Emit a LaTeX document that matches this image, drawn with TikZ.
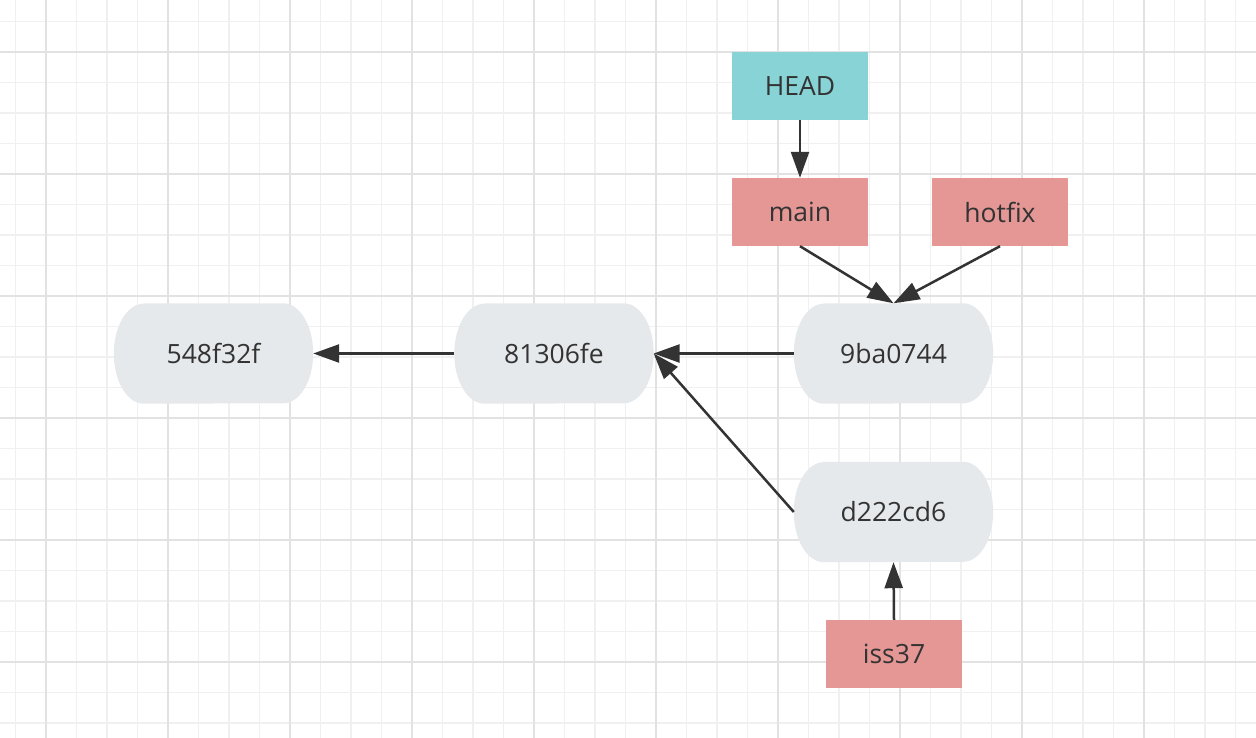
\documentclass[tikz,border=0pt]{standalone}
\usepackage{fontspec}
\setmainfont{Open Sans}
\usetikzlibrary{arrows.meta,backgrounds}
\definecolor{minorgrid}{HTML}{F0F0F0}
\definecolor{majorgrid}{HTML}{E2E2E2}
\definecolor{refcyan}{HTML}{88D3D6}
\definecolor{refpink}{HTML}{E49795}
\definecolor{commitgray}{HTML}{E6E9EC}
\definecolor{ink}{HTML}{333333}
\tikzset{
  minorline/.style={draw=minorgrid,line width=1.5pt},
  majorline/.style={draw=majorgrid,line width=2pt},
  refbox/.style={rectangle,inner sep=0pt,minimum width=136pt,minimum height=68pt,text=ink,font=\fontsize{26.5}{31}\selectfont},
  headbox/.style={refbox,fill=refcyan},
  branchbox/.style={refbox,fill=refpink},
  commitbox/.style={rectangle,inner sep=0pt,minimum width=199pt,minimum height=100pt,text=ink,font=\fontsize{26.5}{31}\selectfont},
  commitfill/.style={fill=commitgray},
  link/.style={draw=ink,line width=2.5pt,-{Triangle[length=26pt,width=18pt]}}
}
\newcommand{\commitshape}[1]{%
  \fill[commitfill] ([xshift=30pt]#1.north west) -- ([xshift=-30pt]#1.north east)
    arc[start angle=90,end angle=-90,x radius=30pt,y radius=50pt]
    -- ([xshift=30pt]#1.south west)
    arc[start angle=270,end angle=90,x radius=30pt,y radius=50pt] -- cycle;}
\begin{document}
\begin{tikzpicture}[x=1pt,y=-1pt]
\useasboundingbox (0,0) rectangle (1256,738);
% nodes
\node[headbox] (head) at (800,86) {HEAD};
\node[branchbox] (main) at (800,212) {main};
\node[branchbox] (hotfix) at (1000,212) {hotfix};
\node[branchbox] (iss) at (894,654) {iss37};
\node[commitbox] (c9ba) at (893.5,353.5) {9ba0744};
\node[commitbox] (d222) at (893.5,512) {d222cd6};
\node[commitbox] (c813) at (554,353.5) {81306fe};
\node[commitbox] (c548) at (213.5,353.5) {548f32f};
\begin{scope}[on background layer]
  \fill[white] (0,0) rectangle (1256,738);
  \foreach \i in {0,...,41} {
    \draw[minorline] ({15.5+30.5*\i},0) -- ({15.5+30.5*\i},738);
  }
  \foreach \i in {0,...,24} {
    \draw[minorline] (0,{21.5+30.5*\i}) -- (1256,{21.5+30.5*\i});
  }
  \foreach \i in {0,...,10} {
    \draw[majorline] ({46+122*\i},0) -- ({46+122*\i},738);
  }
  \foreach \i in {0,...,6} {
    \draw[majorline] (0,{52+122*\i}) -- (1256,{52+122*\i});
  }
  \commitshape{c9ba}
  \commitshape{d222}
  \commitshape{c813}
  \commitshape{c548}
\end{scope}
% connectors
\draw[link] (head.south) -- (main.north);
\draw[link] (main.south) -- (c9ba.north);
\draw[link] (hotfix.south) -- (c9ba.north);
\draw[link] (c9ba.west) -- (c813.east);
\draw[link] (d222.west) -- (c813.east);
\draw[link] (iss.north) -- (d222.south);
\draw[link] (c813.west) -- (c548.east);
\end{tikzpicture}
\end{document}
